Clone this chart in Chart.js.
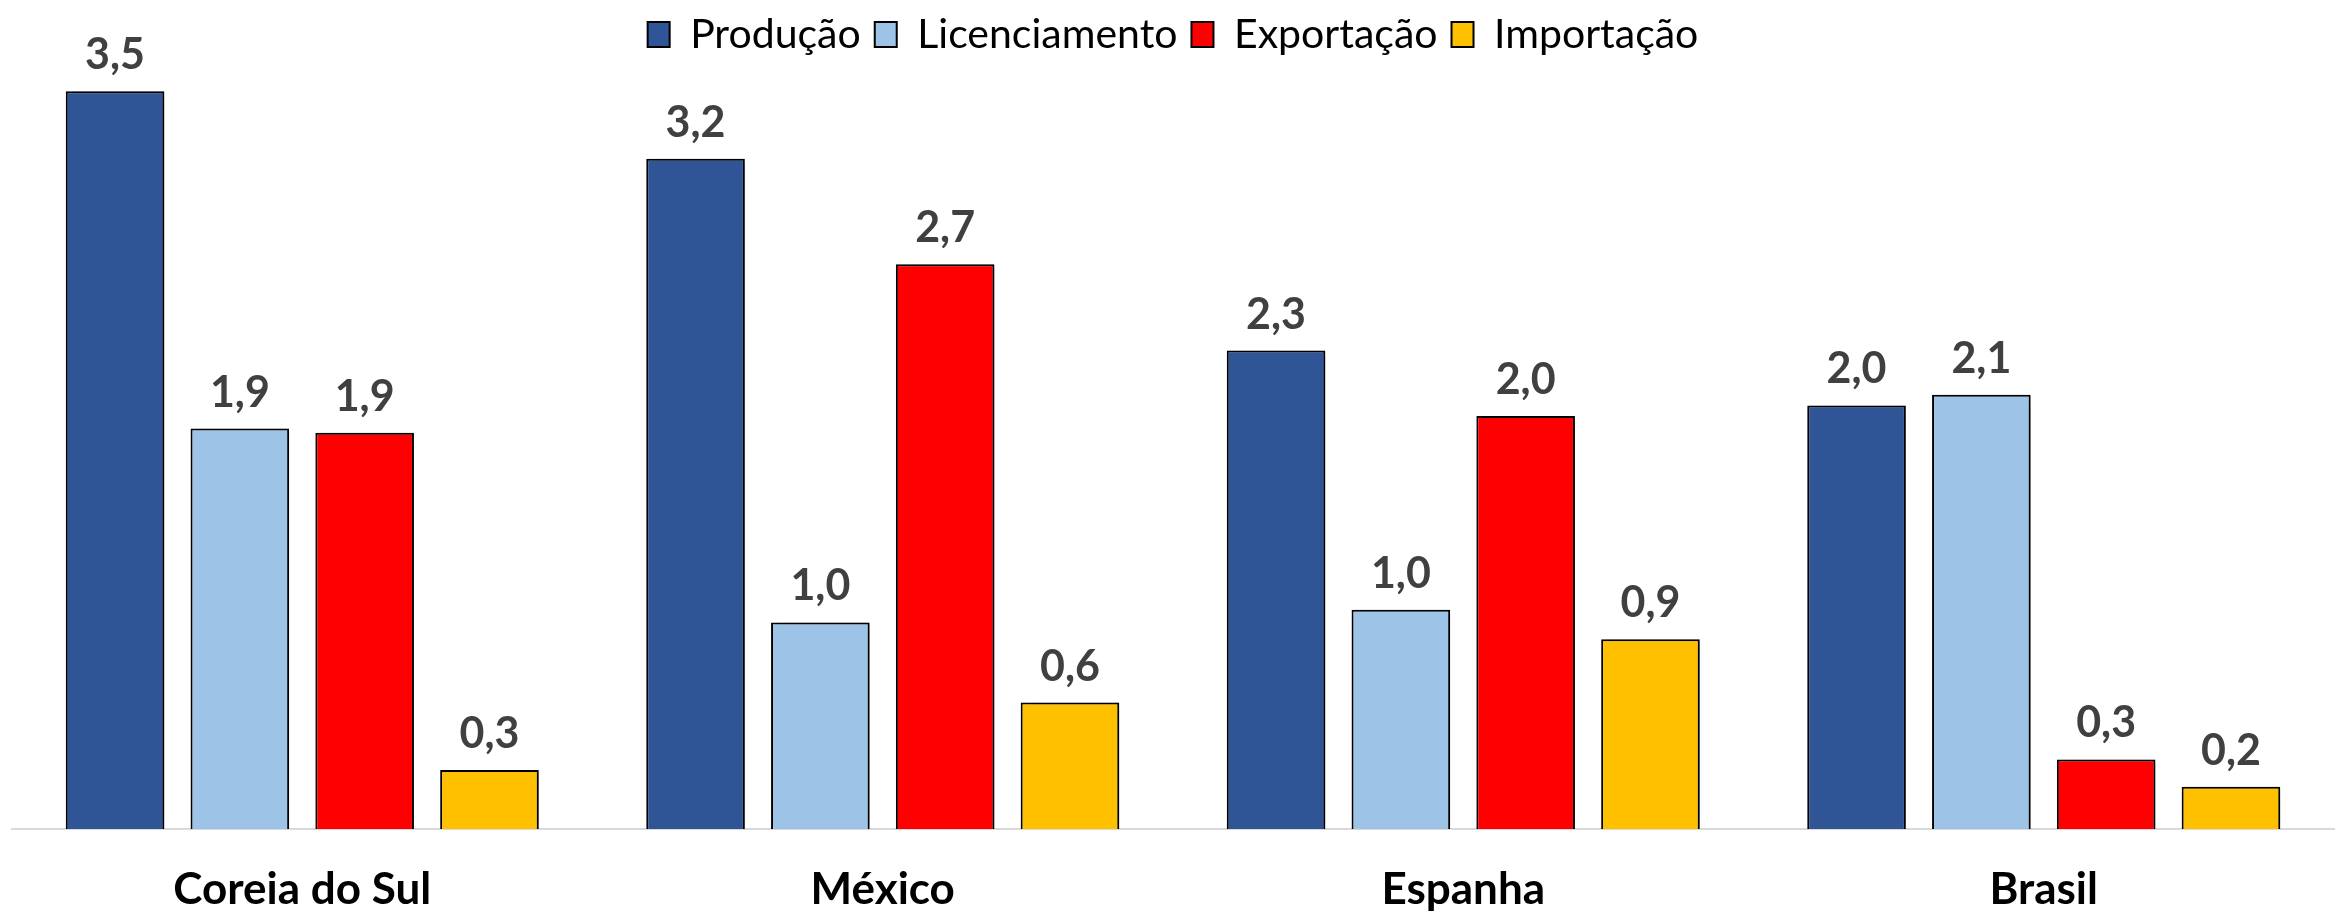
<!DOCTYPE html>
<html>
<head>
<meta charset="utf-8">
<script src="https://cdn.jsdelivr.net/npm/chart.js@4.4.1/dist/chart.umd.min.js"></script>
<style>
    html, body { margin: 0; padding: 0; background: #ffffff; }
    #wrap { width: 2343px; height: 914px; position: relative; }
</style>
</head>
<body>
<div id="wrap"><canvas id="chart"></canvas></div>
<script>
    // Countries on the x axis
    const paises = ['Coreia do Sul', 'México', 'Espanha', 'Brasil'];

    // Values per series
    const producao = [3.50, 3.18, 2.27, 2.01];
    const licenciamento = [1.90, 0.98, 1.04, 2.06];
    const exportacao = [1.88, 2.68, 1.96, 0.33];
    const importacao = [0.28, 0.60, 0.90, 0.20];

    const seriesNames = ['Produção', 'Licenciamento', 'Exportação', 'Importação'];
    const seriesColors = ['#2F5597', '#9DC3E6', '#FF0000', '#FFC000'];

    // Soft drop shadow behind the bars
    const barShadow = {
        id: 'barShadow',
        beforeDatasetDraw(chart) {
            const ctx = chart.ctx;
            ctx.save();
            ctx.shadowColor = 'rgba(0, 0, 0, 0.35)';
            ctx.shadowBlur = 8;
            ctx.shadowOffsetX = 5;
            ctx.shadowOffsetY = 2;
        },
        afterDatasetDraw(chart) {
            chart.ctx.restore();
        }
    };

    // Value labels above each bar
    const valueLabels = {
        id: 'valueLabels',
        afterDatasetsDraw(chart) {
            const ctx = chart.ctx;
            ctx.save();
            ctx.font = 'bold 43px Lato';
            ctx.fillStyle = '#404040';
            ctx.textAlign = 'center';
            ctx.textBaseline = 'alphabetic';
            chart.data.datasets.forEach((ds, i) => {
                const meta = chart.getDatasetMeta(i);
                meta.data.forEach((bar, j) => {
                    const txt = ds.data[j].toFixed(1).replace('.', ',');
                    ctx.fillText(txt, bar.x, bar.y - 22);
                });
            });
            ctx.restore();
        }
    };

    const allSeries = [producao, licenciamento, exportacao, importacao];

    const ctx = document.getElementById('chart').getContext('2d');
    const chart = new Chart(ctx, {
        type: 'bar',
        data: {
            labels: paises,
            datasets: allSeries.map((vals, i) => ({
                label: seriesNames[i],
                data: vals,
                backgroundColor: seriesColors[i],
                borderColor: '#000000',
                borderWidth: 2,
                categoryPercentage: 0.86,
                barPercentage: 0.79
            }))
        },
        options: {
            responsive: true,
            maintainAspectRatio: false,
            animation: false,
            layout: {
                padding: { left: 12, right: 9, top: 0, bottom: 0 }
            },
            plugins: {
                legend: {
                    position: 'top',
                    labels: {
                        font: { family: 'Lato', size: 41 },
                        color: '#000000',
                        boxWidth: 22,
                        boxHeight: 25,
                        padding: 14
                    }
                },
                tooltip: { enabled: false }
            },
            scales: {
                x: {
                    grid: { display: false },
                    border: { display: true, color: '#D9D9D9', width: 2 },
                    ticks: {
                        font: { family: 'Lato', size: 44, weight: 'bold' },
                        color: '#000000',
                        padding: 26
                    },
                    afterFit(scale) {
                        scale.height = 85;
                    }
                },
                y: {
                    display: false,
                    min: 0,
                    max: 3.625
                }
            }
        },
        plugins: [barShadow, valueLabels]
    });
</script>
</body>
</html>
